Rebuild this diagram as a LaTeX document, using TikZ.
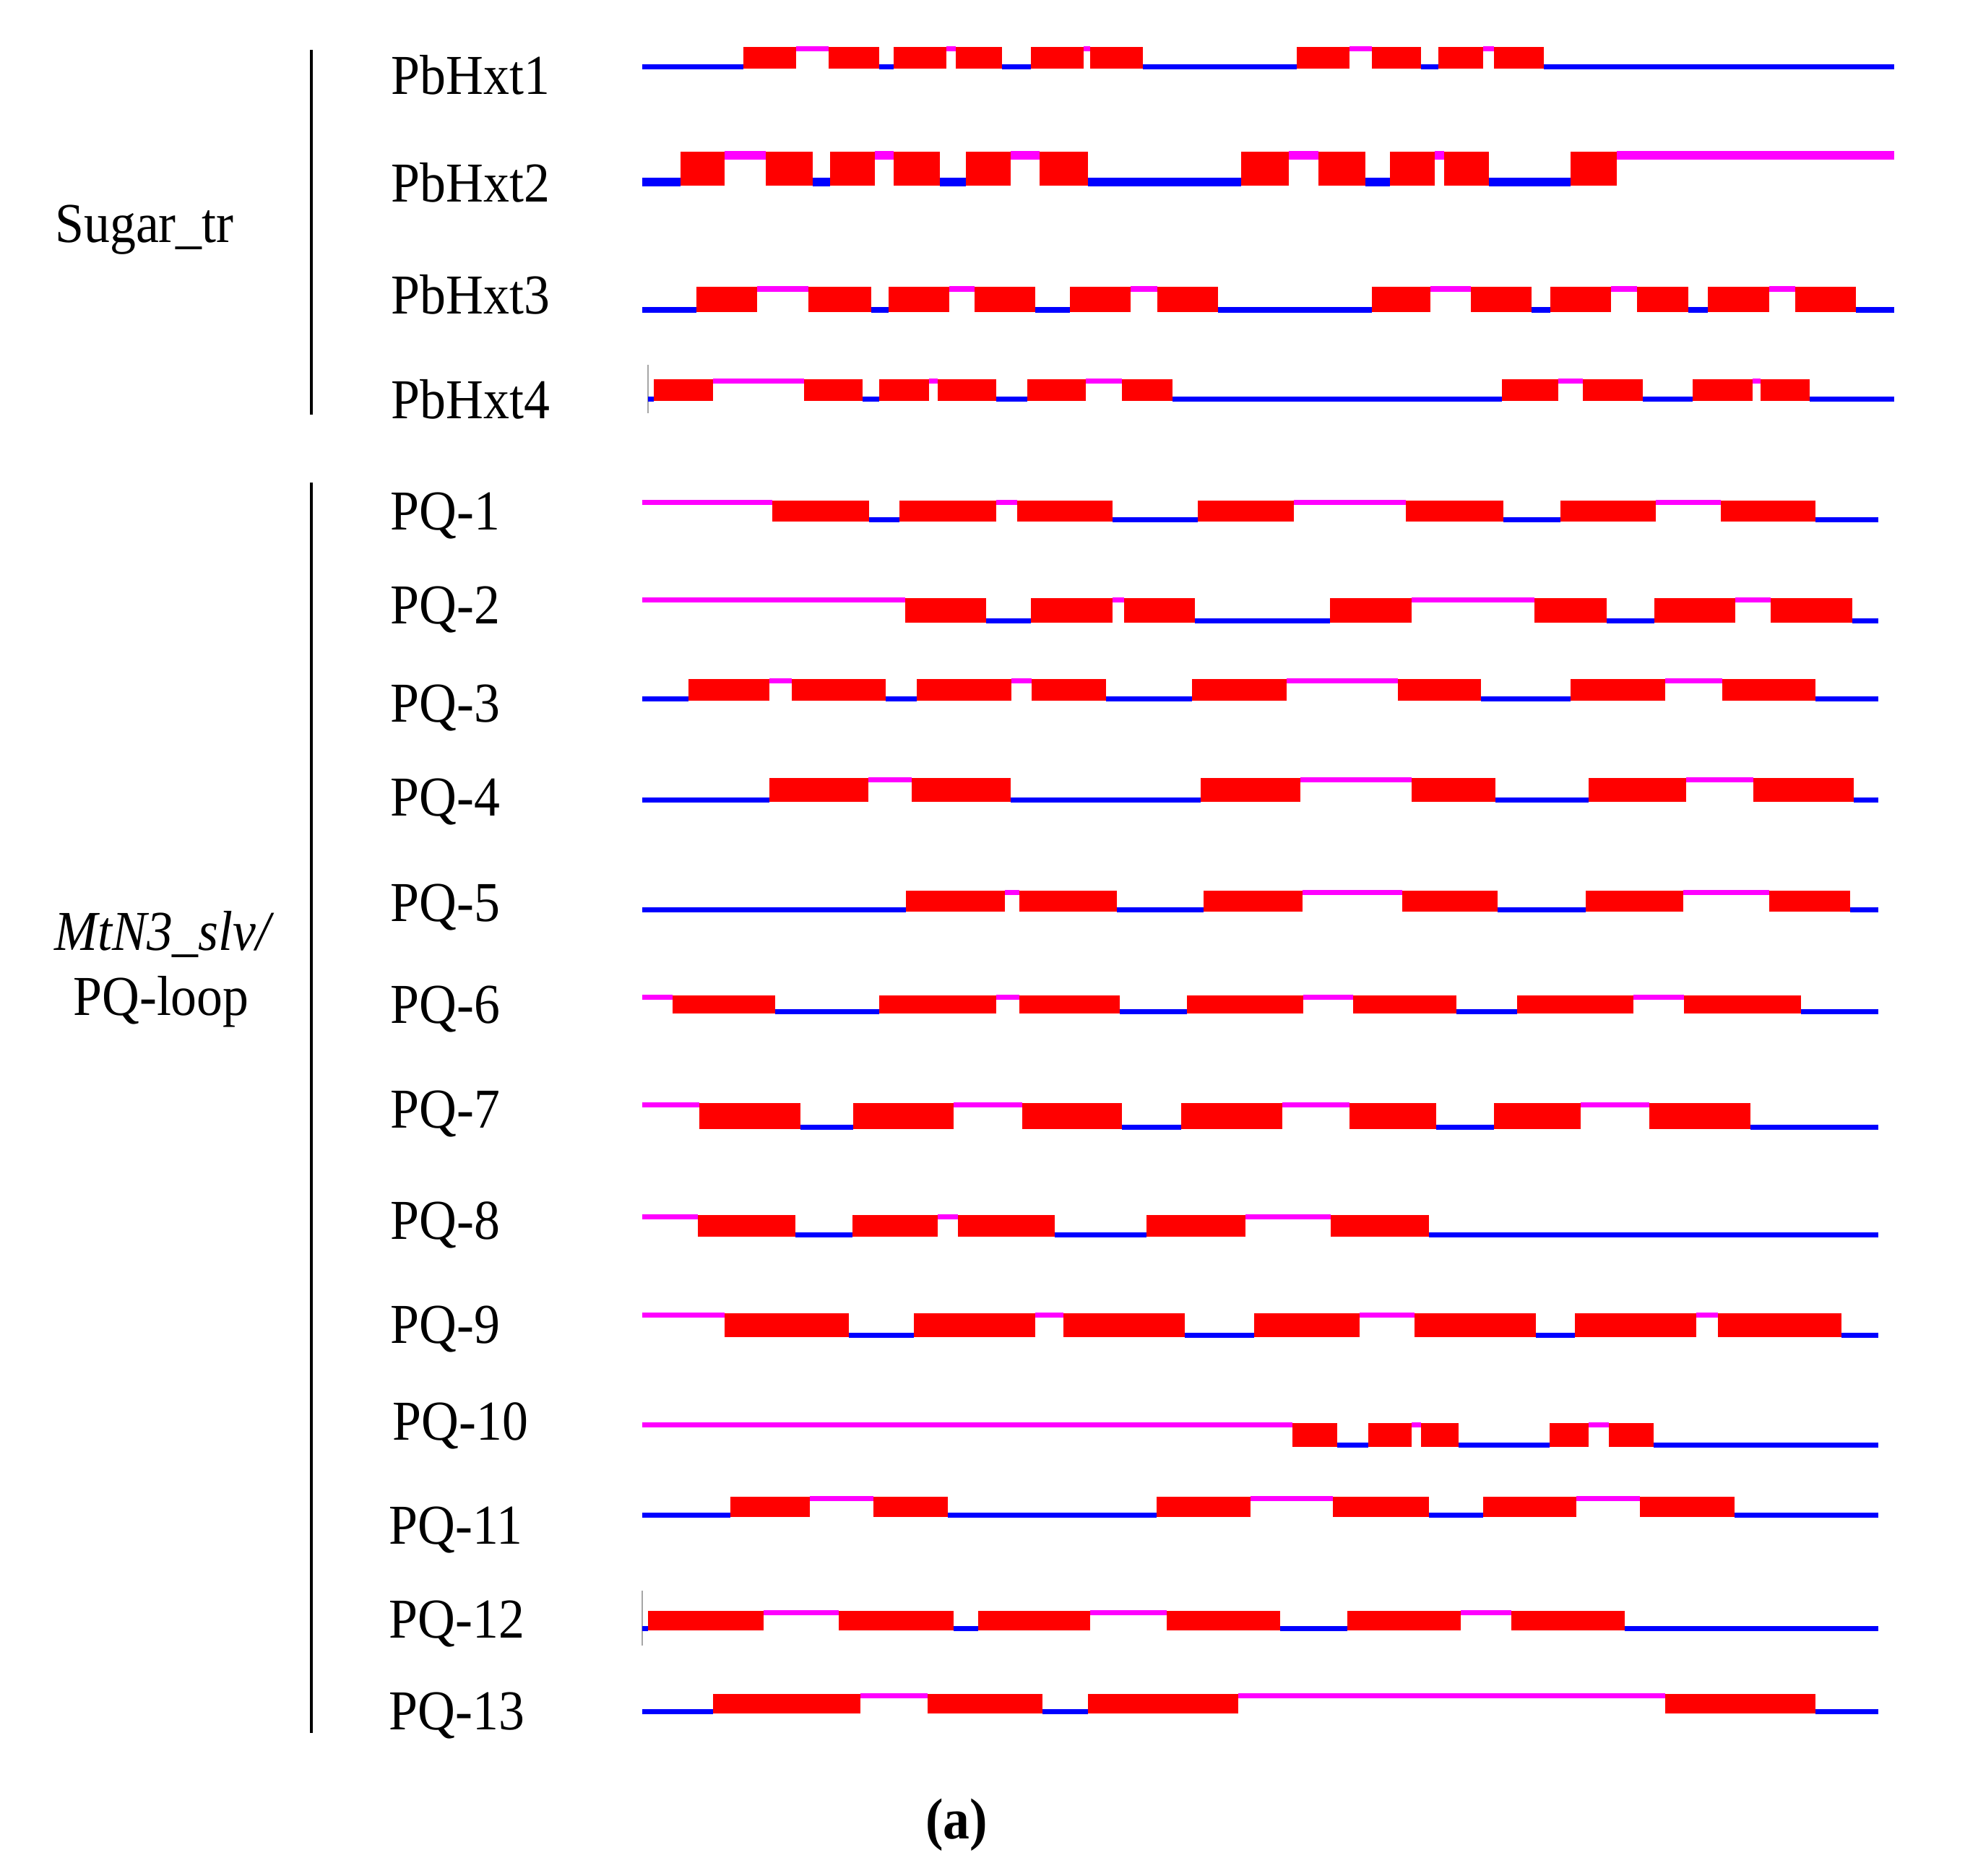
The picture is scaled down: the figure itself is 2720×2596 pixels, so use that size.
\documentclass[tikz,border=0pt]{standalone}
\usepackage{fontspec}
\setmainfont{Liberation Serif}
\newfontfamily\lblfont[FakeStretch=0.92]{Liberation Serif}
\definecolor{tmred}{RGB}{255,0,0}
\definecolor{tmblue}{RGB}{0,0,255}
\definecolor{tmmag}{RGB}{255,0,255}
\newcommand\tmrow[6]{%
  \foreach \a/\b in {#5} {\fill[inloop] (\a,#2+1-#3) rectangle (\b,#2+1);}
  \foreach \a/\b in {#6} {\fill[outloop] (\a,#1-1) rectangle (\b,#1-1+#3);}
  \foreach \a/\b in {#4} {\fill[helix] (\a,#1) rectangle (\b,#2);}
}
\begin{document}
\begin{tikzpicture}[x=0.25pt,y=-0.25pt,
  helix/.style={fill=tmred},
  inloop/.style={fill=tmblue},
  outloop/.style={fill=tmmag},
  bar/.style={draw=black,line width=1pt},
  tick/.style={draw=black!35,line width=0.4pt},
  lbl/.style={font=\lblfont\fontsize{19.5pt}{23pt}\selectfont,inner sep=0pt,anchor=base west},
  grp/.style={font=\lblfont\fontsize{19.5pt}{23pt}\selectfont,inner sep=0pt,anchor=base},
  capt/.style={font=\lblfont\bfseries\fontsize{20pt}{24pt}\selectfont,inner sep=0pt,anchor=base}]
\fill[white] (0,0) rectangle (2720,2596);
\useasboundingbox (0,0) rectangle (2720,2596);

% group bars
\coordinate (b1top) at (431,69);
\coordinate (b1bot) at (431,574);
\coordinate (b2top) at (431,668);
\coordinate (b2bot) at (431,2399);
\draw[bar] (b1top) -- (b1bot);
\draw[bar] (b2top) -- (b2bot);

% group labels
\node[grp] (g-sugar) at (200,335) {Sugar\_tr};
\node[grp] (g-mtn3) at (225,1315) {\itshape MtN3\_slv/};
\node[grp] (g-pq) at (223,1405) {PQ-loop};

% row labels
\node[lbl] (l-h1) at (541,130) {PbHxt1};
\node[lbl] (l-h2) at (541,279) {PbHxt2};
\node[lbl] (l-h3) at (541,434) {PbHxt3};
\node[lbl] (l-h4) at (541,579) {PbHxt4};
\node[lbl] (l-pq1) at (540,733) {PQ-1};
\node[lbl] (l-pq2) at (540,863) {PQ-2};
\node[lbl] (l-pq3) at (540,999) {PQ-3};
\node[lbl] (l-pq4) at (540,1129) {PQ-4};
\node[lbl] (l-pq5) at (540,1275) {PQ-5};
\node[lbl] (l-pq6) at (540,1416) {PQ-6};
\node[lbl] (l-pq7) at (540,1561) {PQ-7};
\node[lbl] (l-pq8) at (540,1715) {PQ-8};
\node[lbl] (l-pq9) at (540,1859) {PQ-9};
\node[lbl] (l-pq10) at (543,1993) {PQ-10};
\node[lbl] (l-pq11) at (538,2137) {PQ-11};
\node[lbl] (l-pq12) at (538,2267) {PQ-12};
\node[lbl] (l-pq13) at (538,2394) {PQ-13};

\node[capt] (cap) at (1324,2545) {(a)};

\begin{scope}[shift={(880,0)},xscale=1.1224]
% PbHxt1
\tmrow{65}{95}{7}
 {133/198,238/300,318/383,395/452,487/552,560/625,815/880,908/968,990/1045,1058/1120}
 {8/133,300/318,452/487,625/815,968/990,1120/1552}
 {198/238,383/395,552/560,880/908,1045/1058}
% PbHxt2
\tmrow{210}{257}{12}
 {55/110,160/218,240/295,318/375,407/462,498/558,747/805,842/900,930/985,997/1052,1153/1210}
 {8/55,218/240,375/407,558/747,900/930,1052/1153}
 {110/160,295/318,462/498,805/842,985/997,1210/1552}
% PbHxt3
\tmrow{397}{432}{8}
 {75/150,213/290,312/387,418/493,535/610,643/718,908/980,1030/1105,1128/1203,1235/1298,1322/1398,1430/1505}
 {8/75,290/312,493/535,718/908,1105/1128,1298/1322,1505/1552}
 {150/213,387/418,610/643,980/1030,1203/1235,1398/1430}
% PbHxt4
\coordinate (t4a) at (15,505);
\coordinate (t4b) at (15,572);
\draw[tick] (t4a) -- (t4b);
\tmrow{525}{555}{7}
 {22/95,208/280,300/362,372/445,483/555,600/662,1068/1138,1168/1242,1303/1377,1387/1448}
 {15/22,280/300,445/483,662/1068,1242/1303,1448/1552}
 {95/208,362/372,555/600,1138/1168,1377/1387}
% PQ-1
\tmrow{693}{722}{7}
 {168/288,325/445,470/588,693/812,950/1070,1140/1258,1338/1455}
 {288/325,588/693,1070/1140,1455/1532}
 {8/168,445/470,812/950,1258/1338}
% PQ-2
\tmrow{828}{862}{7}
 {332/432,487/588,602/690,856/957,1108/1197,1256/1356,1400/1500}
 {432/487,690/856,1197/1256,1500/1532}
 {8/332,588/602,957/1108,1356/1400}
% PQ-3
\tmrow{940}{970}{7}
 {65/165,192/308,347/463,488/580,686/803,940/1042,1153/1270,1340/1455}
 {8/65,308/347,580/686,1042/1153,1455/1532}
 {165/192,463/488,803/940,1270/1340}
% PQ-4
\tmrow{1077}{1110}{7}
 {165/287,340/462,697/820,957/1060,1175/1295,1378/1502}
 {8/165,462/697,1060/1175,1502/1532}
 {287/340,820/957,1295/1378}
% PQ-5
\tmrow{1233}{1262}{7}
 {333/455,473/593,700/822,945/1063,1172/1292,1398/1498}
 {8/333,593/700,1063/1172,1498/1532}
 {455/473,822/945,1292/1398}
% PQ-6
\tmrow{1378}{1403}{7}
 {45/172,300/445,473/597,680/823,885/1012,1087/1230,1293/1437}
 {172/300,597/680,1012/1087,1437/1532}
 {8/45,445/473,823/885,1230/1293}
% PQ-7
\tmrow{1527}{1563}{7}
 {78/203,268/392,477/600,673/797,880/987,1058/1165,1250/1375}
 {203/268,600/673,987/1058,1375/1532}
 {8/78,392/477,797/880,1165/1250}
% PQ-8
\tmrow{1682}{1712}{7}
 {77/197,267/372,397/517,630/752,857/978}
 {197/267,517/630,978/1532}
 {8/77,372/397,752/857}
% PQ-9
\tmrow{1818}{1851}{7}
 {110/263,343/493,527/677,763/893,960/1110,1158/1308,1335/1487}
 {263/343,677/763,1110/1158,1487/1532}
 {8/110,493/527,893/960,1308/1335}
% PQ-10
\tmrow{1970}{2003}{7}
 {810/865,903/957,968/1015,1127/1175,1200/1255}
 {865/903,1015/1127,1255/1532}
 {8/810,957/968,1175/1200}
% PQ-11
\tmrow{2072}{2100}{7}
 {117/215,293/385,642/758,860/978,1045/1160,1238/1355}
 {8/117,385/642,978/1045,1355/1532}
 {215/293,758/860,1160/1238}
% PQ-12
\coordinate (t12a) at (8,2202);
\coordinate (t12b) at (8,2278);
\draw[tick] (t12a) -- (t12b);
\tmrow{2230}{2257}{7}
 {15/158,250/392,422/560,655/795,878/1017,1080/1220}
 {8/15,392/422,795/878,1220/1532}
 {158/250,560/655,1017/1080}
% PQ-13
\tmrow{2345}{2372}{7}
 {95/277,360/502,558/743,1270/1455}
 {8/95,502/558,1455/1532}
 {277/360,743/1270}
\end{scope}
\end{tikzpicture}
\end{document}
